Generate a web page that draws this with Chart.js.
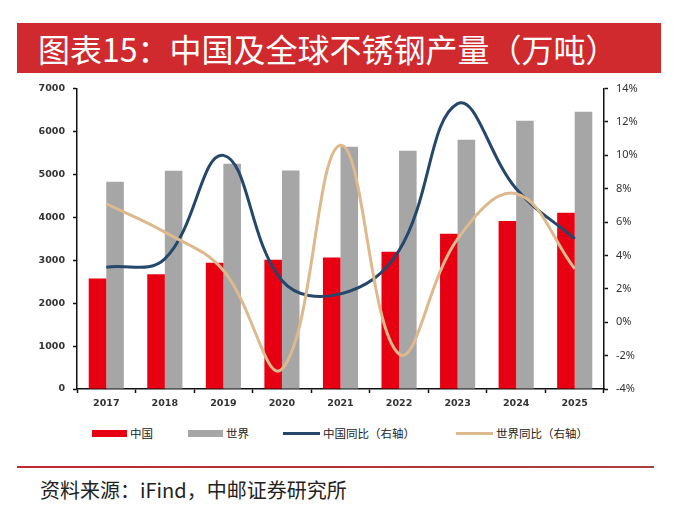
<!DOCTYPE html>
<html>
<head>
<meta charset="utf-8">
<script src="https://cdn.jsdelivr.net/npm/chart.js@4.4.1/dist/chart.umd.min.js"></script>
<style>
  body { margin: 0; width: 681px; height: 507px; background: #fff; overflow: hidden; position: relative; font-family: "Noto Sans CJK SC", sans-serif; }
  #banner { position: absolute; left: 17px; top: 23px; width: 644px; height: 50px; background: #D0292E; color: #fff; font-size: 32px; line-height: 50px; padding-left: 21px; box-sizing: border-box; white-space: nowrap; }
  #wrap { position: absolute; left: 0; top: 74px; width: 681px; height: 344px; }
  #legend { position: absolute; top: 423px; left: 0; width: 681px; height: 20px; font-size: 11.5px; color: #222; }
  .item { position: absolute; top: 0; height: 20px; line-height: 20px; white-space: nowrap; }
  .swatch { display: inline-block; vertical-align: middle; margin-right: 3px; position: relative; top: -1px; }
  #rule { position: absolute; left: 17px; top: 466px; width: 637px; height: 2px; background: linear-gradient(to right, #C0282E, #A8403F); }
  #source { position: absolute; left: 40px; top: 475px; font-size: 20px; color: #222; white-space: nowrap; }
</style>
</head>
<body>
<div id="banner">图表15：中国及全球不锈钢产量（万吨）</div>
<div id="wrap"><canvas id="steelChart" width="681" height="344"></canvas></div>
<div id="legend"></div>
<div id="rule"></div>
<div id="source">资料来源：iFind，中邮证券研究所</div>
<script>
const years = ["2017", "2018", "2019", "2020", "2021", "2022", "2023", "2024", "2025"];
const chinaOutput = [2577, 2675, 2940, 3010, 3064, 3197, 3617, 3912, 4107];
const worldOutput = [4830, 5087, 5250, 5094, 5647, 5553, 5810, 6253, 6463];
const chinaYoY = [3.3, 3.8, 10.0, 2.5, 1.7, 4.3, 13.1, 8.0, 5.0];
const worldYoY = [7.1, 5.4, 3.1, -2.8, 10.6, -1.9, 5.0, 7.7, 3.2];
const leftTicks = [0, 7000, 1000];
const rightTicks = [-4, 14, 2];

const seriesNames = ["中国", "世界", "中国同比（右轴）", "世界同比（右轴）"];
const seriesColors = ["#E60012", "#A6A6A6", "#24476B", "#DDB98D"];

Chart.defaults.font.family = "'DejaVu Sans', sans-serif";
Chart.defaults.color = "#333";

const axisLine = { display: true, color: "#111", width: 1.5 };
const tickGrid = { drawOnChartArea: false, drawTicks: true, tickLength: 4, tickColor: "#111", tickWidth: 1.5 };

new Chart(document.getElementById("steelChart").getContext("2d"), {
    data: {
        labels: years,
        datasets: [
            { type: "line", label: seriesNames[3], data: worldYoY, yAxisID: "y1", borderColor: seriesColors[3], borderWidth: 3, tension: 0.4, pointRadius: 0, order: 0 },
            { type: "line", label: seriesNames[2], data: chinaYoY, yAxisID: "y1", borderColor: seriesColors[2], borderWidth: 3, tension: 0.4, pointRadius: 0, order: 1 },
            { type: "bar", label: seriesNames[0], data: chinaOutput, yAxisID: "y", backgroundColor: seriesColors[0], borderWidth: 0, categoryPercentage: 0.6, barPercentage: 1.0, order: 2 },
            { type: "bar", label: seriesNames[1], data: worldOutput, yAxisID: "y", backgroundColor: seriesColors[1], borderWidth: 0, categoryPercentage: 0.6, barPercentage: 1.0, order: 3 }
        ]
    },
    options: {
        responsive: false,
        animation: false,
        layout: { padding: { top: 6, left: 0, right: 0, bottom: 0 } },
        plugins: { legend: { display: false }, tooltip: { enabled: false } },
        scales: {
            x: {
                offset: true,
                border: axisLine,
                grid: Object.assign({ offset: true }, tickGrid),
                ticks: { padding: 5, color: "#333", font: { size: 9.5, weight: "bold" } },
                afterFit: function (s) { s.height = 29; }
            },
            y: {
                position: "left",
                min: leftTicks[0], max: leftTicks[1],
                border: axisLine,
                grid: tickGrid,
                ticks: {
                    stepSize: leftTicks[2], padding: 8, color: "#333",
                    font: { size: 9.5, weight: "bold" },
                    callback: function (v) { return String(v); }
                },
                afterFit: function (s) { s.width = 77; }
            },
            y1: {
                position: "right",
                min: rightTicks[0], max: rightTicks[1],
                border: axisLine,
                grid: tickGrid,
                ticks: {
                    stepSize: rightTicks[2], padding: 8, color: "#333",
                    font: { family: "'Noto Sans', sans-serif", size: 11 },
                    callback: function (v) { return v + "%"; }
                },
                afterFit: function (s) { s.width = 77; }
            }
        }
    }
});

// legend built from the same series names
const legendPos = [92, 188, 283, 456];
const legend = document.getElementById("legend");
seriesNames.forEach(function (name, i) {
    const item = document.createElement("div");
    item.className = "item";
    item.style.left = legendPos[i] + "px";
    const sw = document.createElement("span");
    sw.className = "swatch";
    sw.style.width = (i < 2 ? 35 : 37) + "px";
    sw.style.height = (i < 2 ? 7 : 3) + "px";
    sw.style.background = seriesColors[i];
    item.appendChild(sw);
    item.appendChild(document.createTextNode(name));
    legend.appendChild(item);
});
</script>
</body>
</html>
